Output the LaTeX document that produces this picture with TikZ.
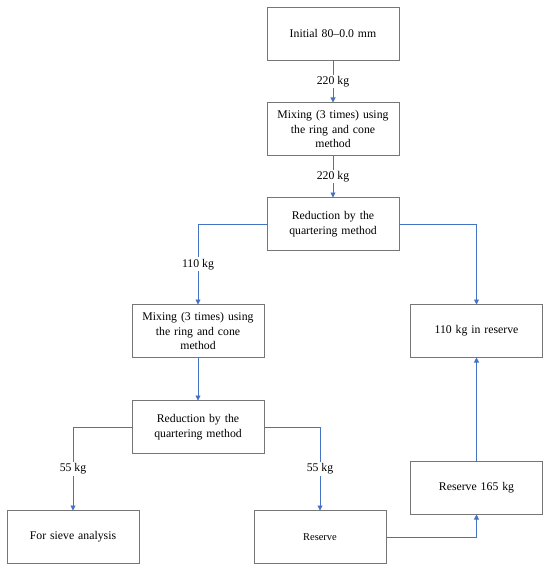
\documentclass[tikz,border=0pt]{standalone}
\usepackage{fontspec}
\setmainfont{Liberation Serif}
\usetikzlibrary{positioning, arrows.meta}
\definecolor{linkblue}{RGB}{68,114,196}
\definecolor{boxgray}{RGB}{118,118,118}
\tikzset{
  stage/.style={rectangle, minimum width=132bp, minimum height=53bp, text width=126bp, align=center, draw=boxgray, line width=0.9bp, inner sep=0pt, outer sep=0pt},
  arrow/.style={draw=linkblue, line width=0.9bp, -{Triangle[width=5bp,length=5bp]}},
  mass/.style={fill=white, inner sep=1.5bp}
}

\begin{document}
\begin{tikzpicture}[x=1bp, y=-1bp, node distance=42bp, every node/.style={font=\fontsize{11.8}{15}\selectfont}]
    \useasboundingbox (0,0) rectangle (550,572);
    \node (init) [stage] at (333,34) {Initial 80–0.0 mm};
    \node (mix1) [stage, below=of init] {Mixing (3 times) using\\the ring and cone\\method};
    \node (red1) [stage, below=of mix1] {Reduction by the\\quartering method};

    % Two branches after the first reduction
    \node (mix2) [stage, below=54bp of red1, xshift=-135bp] {Mixing (3 times) using\\the ring and cone\\method};
    \node (keep110) [stage, below=54bp of red1, xshift=143.5bp] {110 kg in reserve};
    \node (red2) [stage, below=43bp of mix2] {Reduction by the\\quartering method};
    \node (sieve) [stage, below=57bp of red2, xshift=-125bp] {For sieve analysis};
    \node (spare) [stage, below=57bp of red2, xshift=122bp, font=\fontsize{10.5}{13}\selectfont] {Reserve};
    \node (keep165) [stage, below=104bp of keep110] {Reserve 165 kg};

    % Connections
    \draw [arrow] (init) -- node[mass] {220 kg} (mix1);
    \draw [arrow] (mix1) -- node[mass] {220 kg} (red1);
    \draw [arrow] (red1.west) -| node[mass, pos=0.75] {110 kg} (mix2.north);
    \draw [arrow] (red1.east) -| (keep110.north);
    \draw [arrow] (mix2) -- (red2);
    \draw [arrow] (red2.west) -| node[mass, pos=0.75] {55 kg} (sieve.north);
    \draw [arrow] (red2.east) -| node[mass, pos=0.75] {55 kg} (spare.north);

    % Reserve returns
    \draw [arrow] (spare.east) -| (keep165.south);
    \draw [arrow] (keep165) -- (keep110);
\end{tikzpicture}
\end{document}
